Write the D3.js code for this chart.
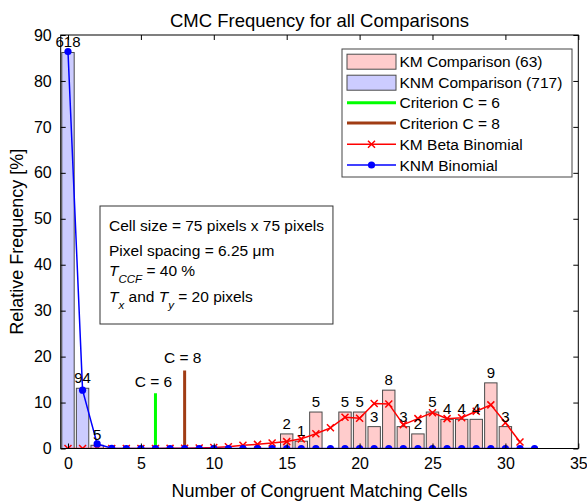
<!DOCTYPE html>
<html>
<head>
<meta charset="utf-8">
<script src="https://cdn.jsdelivr.net/npm/d3@7"></script>
<style>
  body { margin: 0; background: #fff; }
  svg text { font-family: "Liberation Sans", Arial, sans-serif; fill: #000; }
</style>
</head>
<body>
<svg id="chart" width="587" height="503"></svg>
<script>
// data
var cells = d3.range(0, 33);
var kmCounts  = [0,0,0,0,0,0,0,0,0,0,0,0,0,0,0,2,1,5,0,5,5,3,8,3,2,5,4,4,4,9,3,0,0];
var knmCounts = [618,94,5,0,0,0,0,0,0,0,0,0,0,0,0,0,0,0,0,0,0,0,0,0,0,0,0,0,0,0,0,0,0];
var kmTotal = 63, knmTotal = 717;
// fitted curves [%]
var kmBeta = [0,0,0,0,0,0,0.01,0.03,0.06,0.1,0.2,0.4,0.7,0.9,1.2,1.5,2.1,3.2,4.5,6.8,6.6,9.8,9.7,5.2,6.5,7.8,6.5,6.7,8.1,9.5,5.6,1.4];
var knmBinom = [86.4,12.7,1.0,0.05,0,0,0,0,0,0,0,0,0,0,0,0,0,0,0,0,0,0,0,0,0,0,0,0,0,0,0,0,0];
var criteria = [{c: 6, h: 12, color: "#00ff00", labelY: 13.3}, {c: 8, h: 17, color: "#a03c14", labelY: 18.6}];
var xTicks = d3.range(0, 36, 5);
var yTicks = d3.range(0, 91, 10);
var legendItems = [
  {label: "KM Comparison (63)", type: "patch", fill: "#ffcccc"},
  {label: "KNM Comparison (717)", type: "patch", fill: "#ccccff"},
  {label: "Criterion C = 6", type: "line", color: "#00ff00", w: 3},
  {label: "Criterion C = 8", type: "line", color: "#a03c14", w: 3},
  {label: "KM Beta Binomial", type: "cross", color: "#ff0000", w: 1.5},
  {label: "KNM Binomial", type: "dot", color: "#0000ff", w: 1.5}
];

var svg = d3.select("#chart");
var L = 60.7, R = 578.3, T = 35, B = 448.5;

var x = d3.scaleLinear().domain([-0.5, 35]).range([L, R]);
var y = d3.scaleLinear().domain([0, 90]).range([B, T]);
var barW = x(0.85) - x(0);

var plot = svg.append("g");
svg.append("defs").append("clipPath").attr("id", "clip")
  .append("rect").attr("x", L).attr("y", T).attr("width", R - L).attr("height", B - T);
var inner = plot.append("g").attr("clip-path", "url(#clip)");

// bars
function drawBars(counts, total, fill) {
  inner.append("g").selectAll("rect")
    .data(cells.filter(d => counts[d] > 0))
    .enter().append("rect")
      .attr("x", d => x(d) - barW / 2)
      .attr("y", d => y(counts[d] / total * 100))
      .attr("width", barW)
      .attr("height", d => B - y(counts[d] / total * 100))
      .attr("fill", fill)
      .attr("stroke", "#4a4a4a")
      .attr("stroke-width", 1);
}
drawBars(knmCounts, knmTotal, "#ccccff");
drawBars(kmCounts, kmTotal, "#ffcccc");

// count labels
function drawCounts(counts, total) {
  plot.append("g").selectAll("text")
    .data(cells.filter(d => counts[d] > 0))
    .enter().append("text")
      .attr("x", d => x(d))
      .attr("y", d => y(counts[d] / total * 100) - 5)
      .attr("text-anchor", "middle")
      .style("font-size", "15px")
      .text(d => counts[d]);
}
drawCounts(knmCounts, knmTotal);
drawCounts(kmCounts, kmTotal);

// criterion lines
criteria.forEach(function(c) {
  inner.append("line")
    .attr("x1", x(c.c)).attr("x2", x(c.c))
    .attr("y1", y(0)).attr("y2", y(c.h))
    .attr("stroke", c.color).attr("stroke-width", 3);
  plot.append("text")
    .attr("x", x(c.c) - 2).attr("y", y(c.labelY))
    .attr("text-anchor", "middle")
    .style("font-size", "15.5px")
    .text("C = " + c.c);
});

// KM beta binomial
var kmPts = kmBeta.map((v, i) => [i, v]);
inner.append("path")
  .datum(kmPts)
  .attr("fill", "none").attr("stroke", "#ff0000").attr("stroke-width", 1.5)
  .attr("d", d3.line().x(d => x(d[0])).y(d => y(d[1])));
inner.append("g").selectAll("path")
  .data(kmPts).enter().append("path")
    .attr("d", d => { var px = x(d[0]), py = y(d[1]), s = 3.5;
      return "M" + (px - s) + "," + (py - s) + "L" + (px + s) + "," + (py + s) +
             "M" + (px - s) + "," + (py + s) + "L" + (px + s) + "," + (py - s); })
    .attr("stroke", "#ff0000").attr("stroke-width", 1.5);

// KNM binomial
var knmPts = knmBinom.map((v, i) => [i, v]);
inner.append("path")
  .datum(knmPts)
  .attr("fill", "none").attr("stroke", "#0000ff").attr("stroke-width", 1.5)
  .attr("d", d3.line().x(d => x(d[0])).y(d => y(d[1])));
inner.append("g").selectAll("circle")
  .data(knmPts).enter().append("circle")
    .attr("cx", d => x(d[0])).attr("cy", d => y(d[1]))
    .attr("r", 3.6).attr("fill", "#0000ff");

// axes (ticks inside, box on)
var tl = 5;
var ax = plot.append("g");
ax.append("g").attr("transform", "translate(0," + B + ")")
  .call(d3.axisBottom(x).tickValues(xTicks).tickSizeInner(-tl).tickSizeOuter(0).tickPadding(9));
ax.append("g").attr("transform", "translate(0," + T + ")")
  .call(d3.axisTop(x).tickValues(xTicks).tickSizeInner(-tl).tickSizeOuter(0).tickFormat(""));
ax.append("g").attr("transform", "translate(" + L + ",0)")
  .call(d3.axisLeft(y).tickValues(yTicks).tickSizeInner(-tl).tickSizeOuter(0).tickPadding(9));
ax.append("g").attr("transform", "translate(" + R + ",0)")
  .call(d3.axisRight(y).tickValues(yTicks).tickSizeInner(-tl).tickSizeOuter(0).tickFormat(""));
ax.selectAll(".domain").remove();
ax.selectAll(".tick line").attr("stroke", "#000");
ax.selectAll(".tick text").style("font-size", "16px").style("font-family", '"Liberation Sans", Arial, sans-serif');
plot.append("rect").attr("x", L).attr("y", T).attr("width", R - L).attr("height", B - T)
  .attr("fill", "none").attr("stroke", "#000").attr("stroke-width", 1);

// titles
svg.append("text").attr("x", (L + R) / 2).attr("y", 27).attr("text-anchor", "middle")
  .style("font-size", "18.5px").text("CMC Frequency for all Comparisons");
svg.append("text").attr("x", (L + R) / 2).attr("y", 497).attr("text-anchor", "middle")
  .style("font-size", "18px").text("Number of Congruent Matching Cells");
svg.append("text").attr("transform", "translate(23," + (T + B) / 2 + ") rotate(-90)")
  .attr("text-anchor", "middle").style("font-size", "18px").text("Relative Frequency [%]");

// legend
var lg = svg.append("g");
lg.append("rect").attr("x", 342).attr("y", 49).attr("width", 230).attr("height", 128)
  .attr("fill", "#fff").attr("stroke", "#444").attr("stroke-width", 1);
var rowY = [61.7, 82.7, 102.7, 123, 144.3, 165];
legendItems.forEach(function(it, i) {
  var yy = rowY[i], x0 = 347, x1 = 396;
  if (it.type === "patch") {
    lg.append("rect").attr("x", x0).attr("y", yy - 7.5).attr("width", x1 - x0).attr("height", 15)
      .attr("fill", it.fill).attr("stroke", "#4a4a4a");
  } else {
    lg.append("line").attr("x1", x0).attr("x2", x1).attr("y1", yy).attr("y2", yy)
      .attr("stroke", it.color).attr("stroke-width", it.w);
    var mx = (x0 + x1) / 2;
    if (it.type === "cross") {
      lg.append("path").attr("d", "M" + (mx - 3.5) + "," + (yy - 3.5) + "L" + (mx + 3.5) + "," + (yy + 3.5) +
        "M" + (mx - 3.5) + "," + (yy + 3.5) + "L" + (mx + 3.5) + "," + (yy - 3.5))
        .attr("stroke", it.color).attr("stroke-width", 1.5);
    } else if (it.type === "dot") {
      lg.append("circle").attr("cx", mx).attr("cy", yy).attr("r", 3.6).attr("fill", it.color);
    }
  }
  lg.append("text").attr("x", 399.5).attr("y", yy + 5.5).style("font-size", "15.5px").text(it.label);
});

// annotation box
var ann = svg.append("g");
var box = ann.append("rect").attr("x", 100).attr("y", 206).attr("height", 118)
  .attr("fill", "#fff").attr("stroke", "#333").attr("stroke-width", 1);
var tx = 109, fs = "15.5px";
var t1 = ann.append("text").attr("x", tx).attr("y", 230.5).style("font-size", fs).text("Cell size = 75 pixels x 75 pixels");
ann.append("text").attr("x", tx).attr("y", 255.5).style("font-size", fs).text("Pixel spacing = 6.25 μm");
var t3 = ann.append("text").attr("x", tx).attr("y", 276).style("font-size", fs);
t3.append("tspan").style("font-style", "italic").text("T");
t3.append("tspan").attr("dy", 7).style("font-style", "italic").style("font-size", "11.5px").text("CCF");
t3.append("tspan").attr("dy", -7).text(" = 40 %");
var t4 = ann.append("text").attr("x", tx).attr("y", 302).style("font-size", fs);
t4.append("tspan").style("font-style", "italic").text("T");
t4.append("tspan").attr("dy", 7).style("font-style", "italic").style("font-size", "11.5px").text("x");
t4.append("tspan").attr("dy", -7).text(" and ");
t4.append("tspan").style("font-style", "italic").text("T");
t4.append("tspan").attr("dy", 7).style("font-style", "italic").style("font-size", "11.5px").text("y");
t4.append("tspan").attr("dy", -7).text(" = 20 pixels");
box.attr("width", t1.node().getComputedTextLength() + 18);
</script>
</body>
</html>
